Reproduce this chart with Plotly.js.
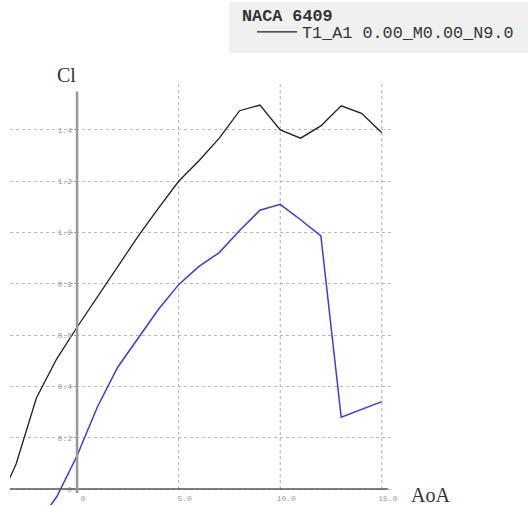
<!DOCTYPE html>
<html>
<head>
<meta charset="utf-8">
<script src="https://cdn.plot.ly/plotly-3.0.1.min.js"></script>
<style>html,body{margin:0;padding:0;background:#fff;}#chart{width:528px;height:507px;}</style>
</head>
<body>
<div id="chart"></div>
<script>
// Series 1 (black, in legend)
const aoaBlack = [-3.5, -3, -2, -1, 0, 1, 2, 3, 4, 5, 6, 7, 8, 9, 10, 11, 12, 13, 14, 15];
const clBlack  = [0.01, 0.098, 0.355, 0.508, 0.631, 0.75, 0.87, 0.985, 1.094, 1.2, 1.28, 1.368, 1.475, 1.497, 1.400, 1.368, 1.416, 1.494, 1.465, 1.389];
// Series 2 (blue)
const aoaBlue = [-1.5, -1, 0, 1, 2, 3, 4, 5, 6, 7, 8, 9, 10, 11, 12, 13, 14, 15];
const clBlue  = [-0.085, -0.03, 0.13, 0.32, 0.475, 0.59, 0.70, 0.797, 0.868, 0.922, 1.008, 1.087, 1.11, 1.05, 0.987, 0.28, 0.31, 0.341];
// Ticks
const xTickVals = [0, 5, 10, 15];
const xTickText = ["0", "5.0", "10.0", "15.0"];
const yTickVals = [0, 0.2, 0.4, 0.6, 0.8, 1.0, 1.2, 1.4];
const yTickText = ["0", "0.2", "0.4", "0.6", "0.8", "1.0", "1.2", "1.4"];
const legendTitle = "NACA 6409";
const seriesName = "T1_A1 0.00_M0.00_N9.0";

const X_RANGE = [-3.3, 15.5];
const Y_RANGE = [-0.062, 1.587];

// pixel -> paper helpers (plot area: x 10..392, y 82..505)
const px = v => (v - 10) / 382;
const py = v => (505 - v) / 423;

const shapes = xTickVals.filter(v => v !== 0).map(v => ({
  type: 'line', xref: 'x', yref: 'y', x0: v, x1: v, y0: 0, y1: Y_RANGE[1],
  line: {color: '#aaaaaa', width: 1, dash: 'dot'}, layer: 'below'
}));
shapes.push({type: 'line', xref: 'x', yref: 'y', x0: X_RANGE[0], x1: 15.3, y0: 0, y1: 0,
  line: {color: '#555555', width: 1.5}});
shapes.push({type: 'line', xref: 'x', yref: 'y', x0: 0, x1: 0, y0: -0.015, y1: 1.55,
  line: {color: '#999999', width: 2.5}});
// legend box background
shapes.push({type: 'rect', xref: 'paper', yref: 'paper', x0: px(229), x1: px(530), y0: py(53), y1: py(2),
  fillcolor: '#f0f0f0', line: {width: 0}, layer: 'below'});

const traces = [
  {x: aoaBlack, y: clBlack, type: 'scatter', mode: 'lines', name: seriesName,
   line: {color: '#1e1e1e', width: 1.3}, showlegend: true},
  {x: aoaBlue, y: clBlue, type: 'scatter', mode: 'lines', name: 'blue',
   line: {color: '#3b3bdf', width: 1.5}, showlegend: false}
];

const layout = {
  width: 528, height: 507,
  margin: {l: 10, r: 136, t: 82, b: 2, pad: 0},
  paper_bgcolor: '#ffffff', plot_bgcolor: '#ffffff',
  showlegend: true,
  legend: {
    x: px(252), y: py(32), xanchor: 'left', yanchor: 'middle',
    bgcolor: 'rgba(0,0,0,0)', borderwidth: 0,
    font: {family: 'Liberation Mono, monospace', size: 16.8, color: '#333'},
    itemwidth: 40, tracegroupgap: 0
  },
  xaxis: {
    range: X_RANGE, showgrid: false, zeroline: false, showline: false,
    anchor: 'free', position: 0.0376,
    tickmode: 'array', tickvals: xTickVals, ticktext: xTickText,
    ticks: '', ticklabelshift: 6, ticklabelstandoff: 3,
    tickfont: {family: 'Liberation Mono, monospace', size: 8, color: '#999'},
    automargin: false, fixedrange: true
  },
  yaxis: {
    range: Y_RANGE, showgrid: true, gridcolor: '#b8b8b8', griddash: 'dot', gridwidth: 1,
    zeroline: false, showline: false,
    anchor: 'free', position: 0.1746,
    tickmode: 'array', tickvals: yTickVals, ticktext: yTickText,
    ticks: 'outside', ticklen: 3, tickcolor: '#999',
    tickfont: {family: 'Liberation Mono, monospace', size: 8, color: '#999'},
    automargin: false, fixedrange: true
  },
  shapes: shapes,
  annotations: [
    {text: '<b>' + legendTitle + '</b>', xref: 'paper', yref: 'paper', x: px(240), y: py(17),
     xanchor: 'left', yanchor: 'middle', showarrow: false,
     font: {family: 'Liberation Mono, monospace', size: 16.8, color: '#333'}},
    {text: 'Cl', xref: 'paper', yref: 'paper', x: px(66), y: py(75), xanchor: 'center', yanchor: 'middle', showarrow: false,
     font: {family: 'Liberation Serif, serif', size: 20, color: '#333'}},
    {text: 'AoA', xref: 'paper', yref: 'paper', x: px(430), y: py(495), xanchor: 'center', yanchor: 'middle', showarrow: false,
     font: {family: 'Liberation Serif, serif', size: 20, color: '#333'}}
  ]
};

Plotly.newPlot('chart', traces, layout, {staticPlot: true, displayModeBar: false});
</script>
</body>
</html>
